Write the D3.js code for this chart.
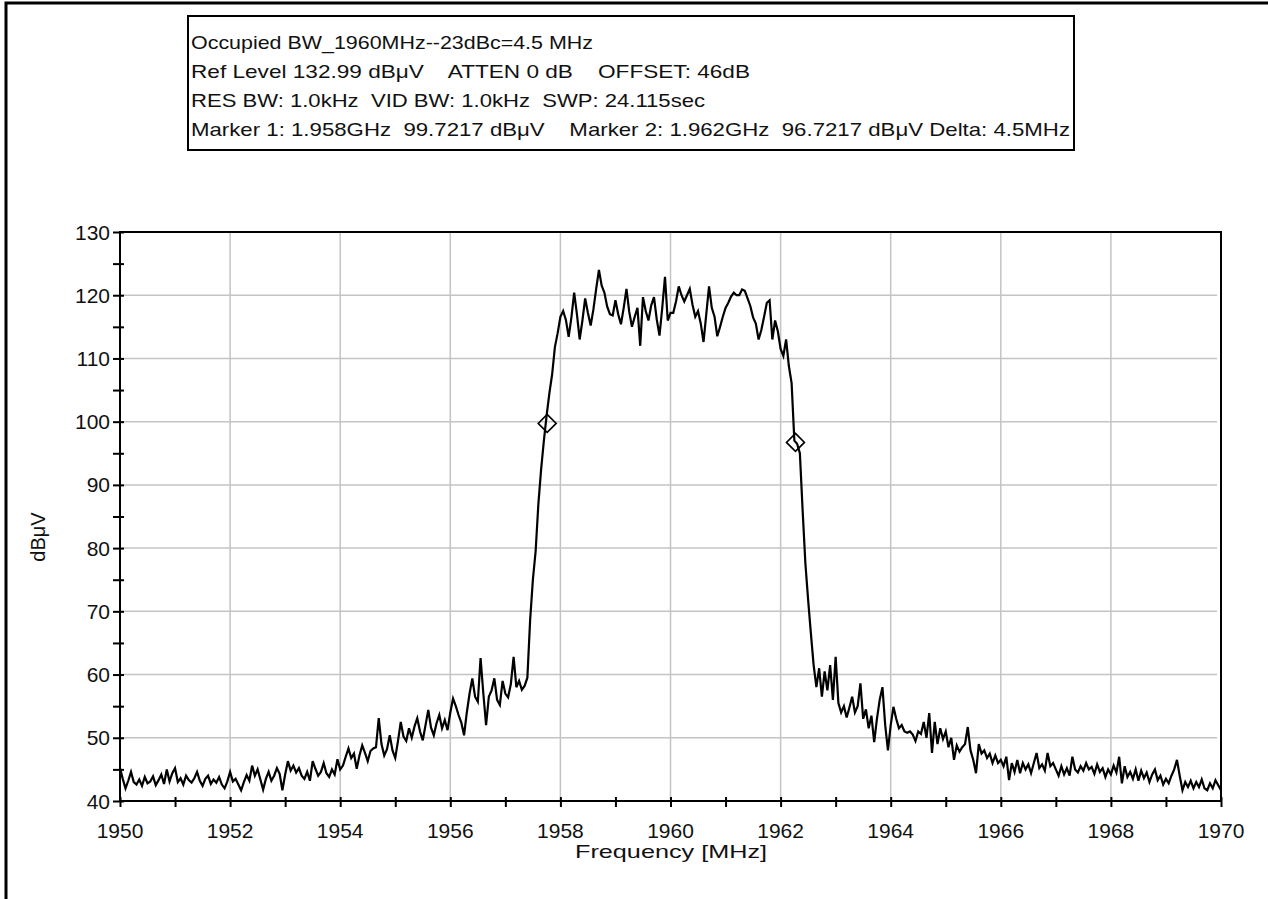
<!DOCTYPE html>
<html>
<head>
<meta charset="utf-8">
<script src="https://cdn.jsdelivr.net/npm/d3@7"></script>
<style>
  body { margin: 0; background: #fff; }
  text { font-family: "Liberation Sans", Arial, sans-serif; fill: #111; white-space: pre; }
</style>
</head>
<body>
<div id="chart"></div>
<script>
// sweep start / step (MHz) and the trace levels (dBuV), one value per 0.05 MHz
var startFreq = 1950;
var stepFreq = 0.05;
var levels = [
  45.2, 43.5, 42.0, 43.2, 44.6, 43.0, 42.6, 43.4, 42.4, 43.8, 42.8, 43.1, 43.9, 42.5, 43.3, 44.2, 42.7, 45.0, 43.1, 44.4,
  45.2, 43.0, 43.6, 42.6, 44.0, 43.3, 42.9, 43.6, 44.6, 43.2, 42.4, 43.5, 44.0, 42.7, 43.4, 42.9, 43.8, 42.6, 42.0, 43.1,
  44.6, 43.1, 43.5, 42.6, 41.7, 43.0, 44.1, 43.2, 45.6, 44.0, 45.0, 43.4, 41.8, 43.5, 44.6, 43.2, 44.0, 45.2, 44.3, 41.7,
  44.2, 46.3, 44.8, 45.6, 44.5, 45.2, 44.0, 43.5, 44.6, 43.2, 46.3, 45.1, 44.0, 44.6, 46.0, 44.4, 43.8, 45.0, 44.2, 46.6,
  45.0, 45.6, 47.0, 48.3, 46.8, 47.5, 45.1, 47.2, 48.8, 47.6, 46.3, 47.9, 48.3, 48.5, 53.1, 49.0, 47.2, 48.2, 50.4, 48.0,
  46.8, 49.5, 52.5, 50.2, 49.5, 51.5, 50.0, 51.8, 53.1, 51.0, 49.6, 52.0, 54.4, 51.6, 50.4, 52.3, 53.6, 51.5, 52.8, 51.2,
  54.0, 56.2, 55.0, 53.6, 52.4, 50.4, 54.0, 57.0, 59.4, 56.5, 55.7, 62.6, 57.0, 52.0, 56.5, 57.5, 59.4, 56.0, 55.2, 59.0,
  57.0, 56.4, 58.5, 62.8, 58.0, 59.0, 57.6, 58.2, 59.5, 68.6, 75.0, 79.5, 87.0, 92.5, 97.0, 101.0, 104.5, 107.5, 111.8, 114.0,
  116.6, 117.5, 116.1, 113.4, 116.5, 120.4, 117.0, 113.0, 116.0, 119.5, 117.2, 115.2, 117.8, 121.0, 124.0, 121.5, 120.4, 118.2, 117.0, 116.8,
  119.2, 117.0, 115.4, 118.0, 121.0, 117.4, 115.0, 116.6, 118.0, 112.0, 119.7, 117.5, 116.0, 118.4, 119.7, 116.2, 113.6, 118.0, 122.9, 116.0,
  117.2, 117.2, 119.0, 121.4, 120.0, 119.0, 120.0, 121.0, 118.5, 116.6, 117.5, 115.5, 112.6, 117.0, 121.4, 118.0, 116.6, 113.5, 115.0, 116.6,
  118.0, 118.8, 119.8, 120.4, 120.0, 120.0, 120.9, 120.7, 119.5, 118.3, 116.5, 115.5, 113.0, 114.5, 116.6, 118.8, 119.2, 113.0, 116.0, 114.3,
  111.5, 110.4, 113.0, 108.8, 106.1, 97.0, 96.5, 95.0, 86.0, 77.6, 71.8, 66.5, 61.5, 58.0, 61.0, 56.5, 60.5, 57.5, 61.5, 56.0,
  62.8, 55.5, 54.0, 55.0, 53.2, 54.8, 56.5, 54.0, 55.0, 58.6, 53.0, 54.5, 51.5, 53.5, 49.3, 53.0, 56.0, 58.0, 52.0, 48.0,
  52.0, 54.9, 53.0, 51.5, 52.0, 51.0, 50.8, 51.0, 50.5, 49.5, 51.0, 50.6, 52.5, 50.0, 53.9, 47.6, 52.5, 49.0, 51.5, 49.8,
  51.0, 48.5, 50.0, 46.5, 48.8, 47.8, 48.5, 49.0, 51.7, 48.0, 46.5, 44.4, 49.0, 47.5, 48.0, 46.8, 47.5, 46.0, 47.2, 46.0,
  46.5, 45.5, 47.0, 43.3, 46.0, 44.6, 46.5, 44.4, 46.0, 45.0, 45.8, 44.4, 46.0, 47.6, 45.2, 45.8, 44.8, 47.6, 45.5, 46.0,
  45.0, 44.0, 45.5, 44.2, 45.2, 44.0, 47.0, 45.0, 44.5, 45.5, 44.8, 46.0, 45.0, 45.4, 44.3, 45.8, 44.6, 45.2, 43.8, 45.0,
  44.2, 45.6, 44.5, 47.0, 42.8, 45.5, 43.8, 44.6, 43.5, 45.0, 43.2, 44.8, 43.6, 44.5, 43.0, 44.2, 45.0, 43.3, 44.0, 42.6,
  43.5, 42.8, 44.0, 45.0, 46.5, 44.0, 41.7, 43.0, 42.2, 43.2, 42.0, 43.0, 42.2, 43.4, 42.0, 41.7, 42.8, 42.0, 43.3, 42.5,
  41.7
];

// markers
var markerFreq = [1957.76, 1962.27];
var markerLevel = [99.72, 96.72];

// axis ticks
var xTicks = [1950, 1952, 1954, 1956, 1958, 1960, 1962, 1964, 1966, 1968, 1970];
var yTicks = [40, 50, 60, 70, 80, 90, 100, 110, 120, 130];

// header lines of the instrument box
var headerLines = [
  "Occupied BW_1960MHz--23dBc=4.5 MHz",
  "Ref Level 132.99 dB\u03bcV    ATTEN 0 dB    OFFSET: 46dB",
  "RES BW: 1.0kHz  VID BW: 1.0kHz  SWP: 24.115sec",
  "Marker 1: 1.958GHz  99.7217 dB\u03bcV    Marker 2: 1.962GHz  96.7217 dB\u03bcV Delta: 4.5MHz"
];
var headerWidths = [402, 559, 514, 879];

var W = 1268, H = 899;
var plot = { left: 120, right: 1221, top: 232, bottom: 801 };

var svg = d3.select("#chart").append("svg")
  .attr("width", W).attr("height", H);

// outer frame (only top and left edges are inside the picture)
svg.append("rect")
  .attr("x", 6).attr("y", 3).attr("width", W + 20).attr("height", H + 20)
  .attr("fill", "none").attr("stroke", "#000").attr("stroke-width", 3);

// header box
var hb = svg.append("g");
hb.append("rect")
  .attr("x", 188).attr("y", 16).attr("width", 886).attr("height", 134)
  .attr("fill", "#fff").attr("stroke", "#000").attr("stroke-width", 2);
hb.selectAll("text").data(headerLines).enter().append("text")
  .attr("x", 191)
  .attr("y", function (d, i) { return 49 + i * 29; })
  .attr("font-size", 19)
  .attr("xml:space", "preserve")
  .attr("textLength", function (d, i) { return headerWidths[i]; })
  .attr("lengthAdjust", "spacingAndGlyphs")
  .text(function (d) { return d; });

var x = d3.scaleLinear().domain([1950, 1970]).range([plot.left, plot.right]);
var y = d3.scaleLinear().domain([40, 130]).range([plot.bottom, plot.top]);

var freqs = levels.map(function (v, i) { return startFreq + i * stepFreq; });

// grid
var grid = svg.append("g").attr("stroke", "#c4c4c4").attr("stroke-width", 1.5);
grid.selectAll(".vg").data(xTicks.slice(1, -1)).enter().append("line")
  .attr("x1", function (d) { return x(d); }).attr("x2", function (d) { return x(d); })
  .attr("y1", plot.top).attr("y2", plot.bottom);
grid.selectAll(".hg").data(yTicks.slice(1, -1)).enter().append("line")
  .attr("x1", plot.left).attr("x2", plot.right - 4)
  .attr("y1", function (d) { return y(d); }).attr("y2", function (d) { return y(d); });

// trace
var line = d3.line()
  .x(function (d, i) { return x(freqs[i]); })
  .y(function (d) { return y(d); });
svg.append("path")
  .datum(levels)
  .attr("d", line)
  .attr("fill", "none")
  .attr("stroke", "#000")
  .attr("stroke-width", 2.2)
  .attr("stroke-linejoin", "miter");

// markers (diamonds)
svg.selectAll(".mk").data(markerFreq).enter().append("path")
  .attr("transform", function (d, i) {
    return "translate(" + x(d) + "," + y(markerLevel[i]) + ")";
  })
  .attr("d", "M0,-9L9,0L0,9L-9,0Z")
  .attr("fill", "none").attr("stroke", "#000").attr("stroke-width", 1.6);

// axes
var xAxis = svg.append("g").attr("transform", "translate(0," + plot.bottom + ")")
  .call(d3.axisBottom(x).tickValues(d3.range(1950, 1971, 1)).tickSize(0).tickFormat(""));
var yAxis = svg.append("g").attr("transform", "translate(" + plot.left + ",0)")
  .call(d3.axisLeft(y).tickValues(d3.range(40, 131, 5)).tickSize(0).tickFormat(""));
svg.selectAll(".domain").remove();

// crossing tick marks
xAxis.selectAll(".tick").append("line")
  .attr("y1", -4).attr("y2", 6).attr("stroke", "#000").attr("stroke-width", 2);
yAxis.selectAll(".tick").append("line")
  .attr("x1", -7).attr("x2", 4).attr("stroke", "#000").attr("stroke-width", 2);

// plot frame
svg.append("rect")
  .attr("x", plot.left).attr("y", plot.top)
  .attr("width", plot.right - plot.left).attr("height", plot.bottom - plot.top)
  .attr("fill", "none").attr("stroke", "#000").attr("stroke-width", 2);

// tick labels
svg.selectAll(".xl").data(xTicks).enter().append("text")
  .attr("x", function (d) { return x(d); })
  .attr("y", 838)
  .attr("text-anchor", "middle")
  .attr("font-size", 21)
  .text(function (d) { return d; });
svg.selectAll(".yl").data(yTicks).enter().append("text")
  .attr("x", 110)
  .attr("y", function (d) { return y(d) + 7.5; })
  .attr("text-anchor", "end")
  .attr("font-size", 21)
  .text(function (d) { return d; });

// axis titles
svg.append("text")
  .attr("x", 575).attr("y", 858)
  .attr("font-size", 19)
  .attr("textLength", 192)
  .attr("lengthAdjust", "spacingAndGlyphs")
  .text("Frequency [MHz]");
svg.append("text")
  .attr("transform", "translate(45,537) rotate(-90)")
  .attr("text-anchor", "middle")
  .attr("font-size", 20)
  .text("dB\u03bcV");
</script>
</body>
</html>
